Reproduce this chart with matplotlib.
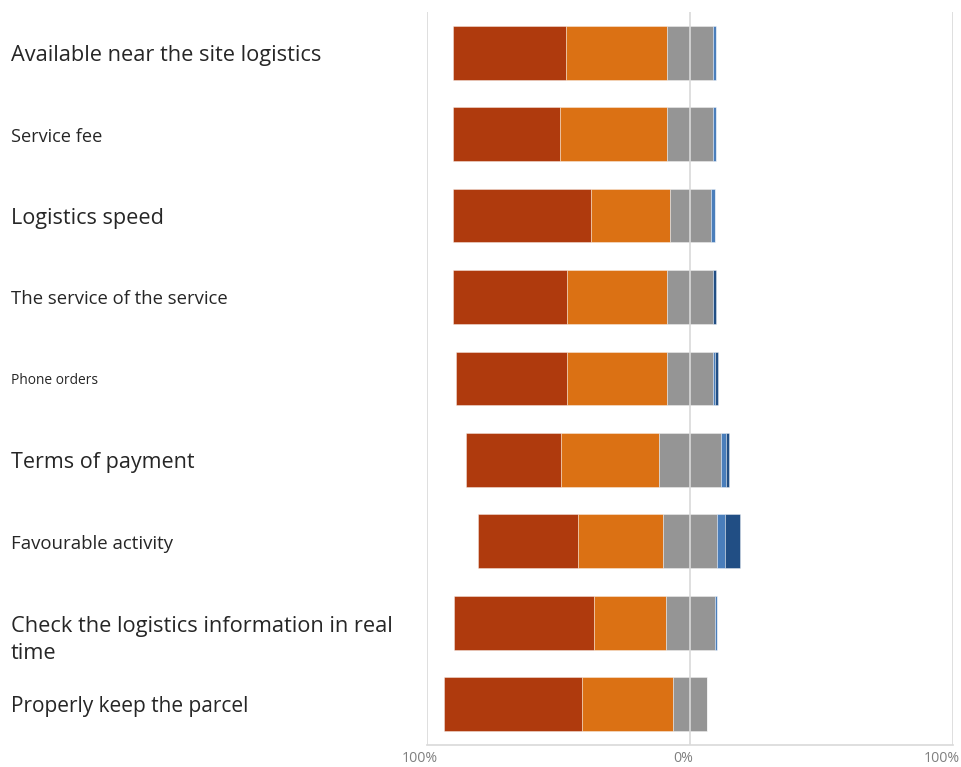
import matplotlib.pyplot as plt
import matplotlib.transforms as mtransforms
import numpy as np

categories = [
    "Available near the site logistics",
    "Service fee",
    "Logistics speed",
    "The service of the service",
    "Phone orders",
    "Terms of payment",
    "Favourable activity",
    "Check the logistics information in real\ntime",
    "Properly keep the parcel",
]
label_sizes = [15.7, 13.1, 15.6, 13.3, 9.9, 15.5, 13.4, 15.7, 15.0]

# response shares in percent, from the left-most (dark red) to the right-most (dark blue)
level_1 = [42.7, 40.6, 52.4, 43.5, 42.5, 36.1, 38.0, 53.1, 52.4]
level_2 = [38.6, 40.8, 30.0, 37.9, 37.9, 37.3, 32.4, 27.3, 34.7]
neutral = [17.5, 17.5, 15.6, 17.5, 17.5, 23.7, 20.7, 18.6, 12.8]
level_4 = [1.0, 1.0, 1.8, 0.0, 0.9, 1.9, 2.9, 0.8, 0.0]
level_5 = [0.0, 0.0, 0.0, 1.0, 1.1, 1.0, 5.9, 0.0, 0.0]

tick_values = [-100, 0, 100]
tick_labels = ["100%", "0%", "100%"]

colors = ["#AF3A0D", "#DB7114", "#959595", "#4A7EBB", "#214E84"]

plt.rcParams["font.family"] = ["Open Sans", "DejaVu Sans"]

fig = plt.figure(figsize=(9.62, 7.67), dpi=100)
ax = fig.add_axes([0.4439, 0.0287, 0.5468, 0.9557])

y = np.arange(len(categories))
series = [np.array(s) for s in (level_1, level_2, neutral, level_4, level_5)]
left = -(series[0] + series[1] + series[2] / 2)

for values, color in zip(series, colors):
    ax.barh(y, values, left=left, height=0.66, color=color,
            edgecolor="#FFFFFF70", linewidth=0.6, zorder=1)
    left = left + values

ax.set_xlim(-100, 100)
ax.set_ylim(len(categories) - 0.5, -0.5)

ax.set_xticks(tick_values)
ax.set_xticklabels(tick_labels, color="#7F7F7F", fontsize=10.2)
ax.tick_params(axis="x", length=0, pad=4)
ax.set_yticks([])
# excel puts the axis labels a little left of the gridlines
for lbl, dx in zip(ax.get_xticklabels(), [-7, -7, -11]):
    shift = mtransforms.ScaledTranslation(dx / 100, 0, fig.dpi_scale_trans)
    lbl.set_transform(lbl.get_transform() + shift)

for x in tick_values:
    ax.axvline(x, color="#D9D9D9", linewidth=1.2, zorder=3)

for side in ["top", "left", "right"]:
    ax.spines[side].set_visible(False)
ax.spines["bottom"].set_color("#D9D9D9")
ax.spines["bottom"].set_linewidth(1.2)

label_trans = mtransforms.blended_transform_factory(fig.transFigure, ax.transData)
for i, (name, size) in enumerate(zip(categories, label_sizes)):
    offset = 0.21 if "\n" in name else 0.03
    ax.text(0.0115, i + offset, name, transform=label_trans, fontsize=size,
            color="#262626", ha="left", va="center", linespacing=1.33)

fig.savefig("out.png", dpi=100)
